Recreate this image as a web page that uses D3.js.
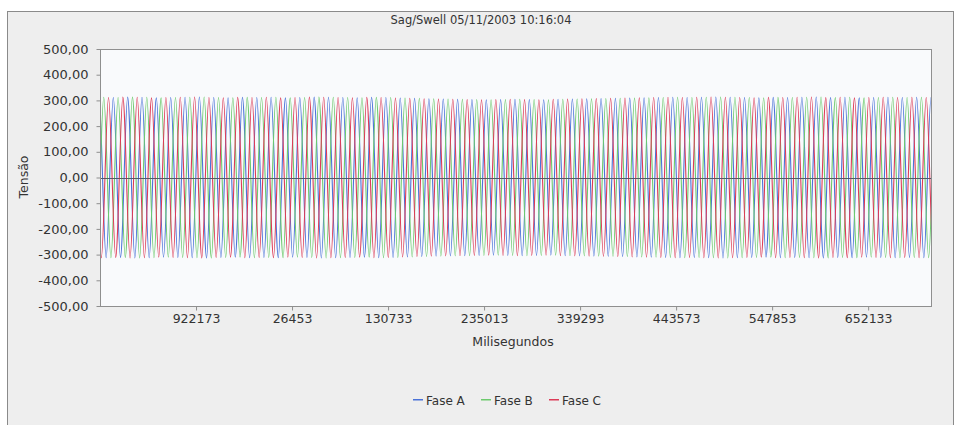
<!DOCTYPE html>
<html><head><meta charset="utf-8">
<script src="https://cdn.jsdelivr.net/npm/d3@7"></script>
<style>body{margin:0;background:#fff}svg{display:block}text{font-family:"DejaVu Sans",sans-serif}</style>
</head><body><svg id="c" width="960" height="425"></svg>
<script>
// ---- data ----
const chartTitle = "Sag/Swell 05/11/2003 10:16:04";
const xLabel = "Milisegundos";
const yLabel = "Tensão";
const seriesNames = ["Fase A", "Fase B", "Fase C"];
const seriesColors = ["#4a72d8", "#6dca6d", "#dc3b57"];
const phaseOffsets = [0, 1 / 3, -1 / 3];        // in cycles
const xDomain = [817893, 1720400];
const yDomain = [-500, 500];
const yTicks = [500, 400, 300, 200, 100, 0, -100, -200, -300, -400, -500];
const xTicks = [922173, 1026453, 1130733, 1235013, 1339293, 1443573, 1547853, 1652133];
const xTickLabels = ["922173", "26453", "130733", "235013", "339293", "443573", "547853", "652133"];
const cyclePeriod = 15580;
const firstZeroA = 812876;
// peak voltage of each cycle
const peakValues = [312,311,313,312,310,311,312,313,311,310,312,311,312,310,311,313,312,311,310,312,
                    311,309,308,306,305,304,303,302,303,304,303,302,304,305,306,307,308,309,310,311,
                    312,311,312,313,312,311,310,312,311,312,313,311,312,310,311,312,311,312,311,310];

// ---- drawing ----
const svg = d3.select("#c");
const m = {left: 100, right: 931, top: 49, bottom: 306};

svg.append("rect").attr("x", 7.5).attr("y", 11.5).attr("width", 946).attr("height", 430)
  .attr("fill", "#eeeeee").attr("stroke", "#8a8a8a");

const x = d3.scaleLinear().domain(xDomain).range([m.left, m.right]);
const y = d3.scaleLinear().domain(yDomain).range([m.bottom, m.top]);

svg.append("rect").attr("x", m.left + 0.5).attr("y", m.top + 0.5)
  .attr("width", m.right - m.left).attr("height", m.bottom - m.top)
  .attr("fill", "#f9fafc");

svg.append("defs").append("clipPath").attr("id", "clip")
  .append("rect").attr("x", m.left + 1).attr("y", m.top + 1)
  .attr("width", m.right - m.left - 1).attr("height", m.bottom - m.top - 1);

const quarter = [0, 1, 0, -1];
function seriesPoints(k) {
  const pts = [];
  for (let i = -2; i < peakValues.length; i++) {
    const a = peakValues[Math.max(0, i)];
    for (let q = 0; q < 4; q++) {
      pts.push([firstZeroA + (i + phaseOffsets[k] + q / 4) * cyclePeriod, quarter[q] * a]);
    }
  }
  return pts;
}
const line = d3.line().x(d => x(d[0])).y(d => y(d[1])).curve(d3.curveNatural);
const g = svg.append("g").attr("clip-path", "url(#clip)");
seriesNames.forEach((n, k) => {
  g.append("path").attr("d", line(seriesPoints(k))).attr("fill", "none")
    .attr("stroke", seriesColors[k]).attr("stroke-width", 1.1);
});
// zero line
svg.append("line").attr("x1", m.left).attr("x2", m.right)
  .attr("y1", Math.round(y(0)) + 0.5).attr("y2", Math.round(y(0)) + 0.5)
  .attr("stroke", "#555a66").attr("stroke-width", 1);

// border
svg.append("rect").attr("x", m.left + 0.5).attr("y", m.top + 0.5)
  .attr("width", m.right - m.left).attr("height", m.bottom - m.top)
  .attr("fill", "none").attr("stroke", "#8f8f8f");

const fmt = v => d3.format(".2f")(v).replace(".", ",").replace("−", "-");
const yAxis = svg.append("g").attr("transform", `translate(${m.left + 0.5},0)`)
  .call(d3.axisLeft(y).tickValues(yTicks).tickSize(4).tickPadding(8).tickFormat(fmt));
const xAxis = svg.append("g").attr("transform", `translate(0,${m.bottom + 0.5})`)
  .call(d3.axisBottom(x).tickValues(xTicks).tickSize(4).tickPadding(4)
    .tickFormat((d, i) => xTickLabels[i]));
[yAxis, xAxis].forEach(a => {
  a.select(".domain").remove();
  a.selectAll(".tick line").attr("stroke", "#8f8f8f");
  a.selectAll("text").attr("fill", "#333").style("font-size", "12.5px")
    .style("font-family", "'DejaVu Sans',sans-serif");
});
yAxis.selectAll("text").style("font-size", "13px");

svg.append("text").attr("x", 481).attr("y", 24).attr("text-anchor", "middle")
  .attr("fill", "#333").style("font-size", "11.5px").text(chartTitle);
svg.append("text").attr("x", 513).attr("y", 346).attr("text-anchor", "middle")
  .attr("fill", "#333").style("font-size", "12.5px").text(xLabel);
svg.append("text").attr("transform", "translate(28,177) rotate(-90)").attr("text-anchor", "middle")
  .attr("fill", "#333").style("font-size", "12.5px").text(yLabel);

// legend
const lx = [413, 481, 549];
seriesNames.forEach((n, k) => {
  svg.append("rect").attr("x", lx[k]).attr("y", 399).attr("width", 10).attr("height", 1.5)
    .attr("fill", seriesColors[k]);
  svg.append("text").attr("x", lx[k] + 13).attr("y", 405).attr("fill", "#333")
    .style("font-size", "12px").text(n);
});
</script></body></html>
